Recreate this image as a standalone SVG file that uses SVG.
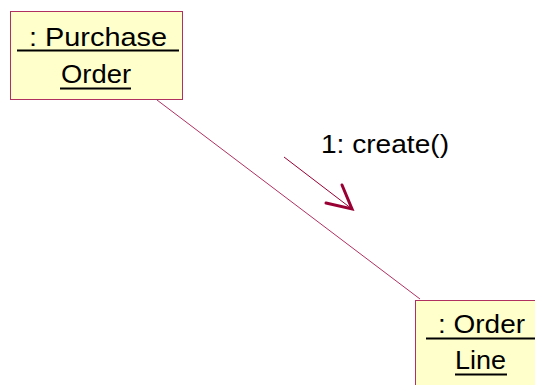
<svg xmlns="http://www.w3.org/2000/svg" width="535" height="385" viewBox="0 0 535 385">
<style>
.box{fill:#FFFFCC;stroke:#B03060;stroke-width:1}
.t{font-family:"Liberation Sans",Arial,sans-serif;font-size:25px;fill:#000}
.u{stroke:#000;stroke-width:2}
.conn{stroke:#B03060;stroke-width:1;fill:none}
.msg{stroke:#990033;stroke-width:1;fill:none}
.head{stroke:#990033;stroke-width:3;fill:none;stroke-linecap:round;stroke-linejoin:miter}
</style>
<rect width="535" height="385" fill="#fff"/>
<g id="connectors">
<line class="conn" x1="157" y1="100" x2="420" y2="299"/>
</g>
<g id="message">
<line class="msg" x1="284" y1="157" x2="352" y2="209"/>
<polyline class="head" points="342,185 352,209 326,203"/>
<text class="t" x="321" y="153" textLength="128" lengthAdjust="spacingAndGlyphs">1: create()</text>
</g>
<g id="purchaseOrder">
<rect class="box" x="10.5" y="11.5" width="172" height="88"/>
<text class="t" x="29" y="46" textLength="138" lengthAdjust="spacingAndGlyphs">: Purchase</text>
<line class="u" x1="17" y1="50.5" x2="179" y2="50.5"/>
<text class="t" x="61" y="83" textLength="70" lengthAdjust="spacingAndGlyphs">Order</text>
<line class="u" x1="60" y1="88.5" x2="131" y2="88.5"/>
</g>
<g id="orderLine">
<rect class="box" x="415.5" y="300.5" width="140" height="100"/>
<text class="t" x="438" y="333" textLength="87" lengthAdjust="spacingAndGlyphs">: Order</text>
<line class="u" x1="426" y1="338.5" x2="540" y2="338.5"/>
<text class="t" x="455" y="369" textLength="51" lengthAdjust="spacingAndGlyphs">Line</text>
<line class="u" x1="455" y1="374.5" x2="507" y2="374.5"/>
</g>
</svg>
